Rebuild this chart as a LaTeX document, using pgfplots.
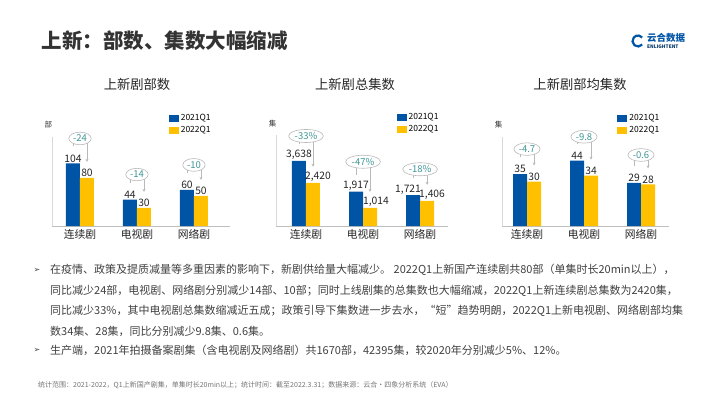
\documentclass[border=0pt]{standalone}
\usepackage{pgfplots}
\pgfplotsset{compat=1.18}
\usetikzlibrary{arrows.meta,shapes.geometric}
\usepackage{fontspec}
\setmainfont{Noto Sans CJK SC}
\newfontfamily\dejavu{DejaVu Sans}
\definecolor{cblue}{RGB}{0,84,166}
\definecolor{cyell}{RGB}{255,192,0}
\definecolor{cteal}{RGB}{64,150,150}
\definecolor{cgrayl}{RGB}{185,185,185}
\definecolor{ctext}{RGB}{64,64,64}
\newcommand\fs[1]{\fontsize{#1}{#1}\selectfont}
\tikzset{
  annline/.style={draw=cgrayl, line width=0.6pt},
  annell/.style={ellipse, draw=cgrayl, fill=white, line width=0.6pt, inner sep=1pt, text=cteal, font=\fs{9.5}},
}
\pgfplotsset{
  /pgfplots/ybar legend/.style={/pgfplots/legend image code/.code={\fill[##1] (0pt,-3.5pt) rectangle (10pt,3.5pt);}},
  mybars/.style={
    scale only axis, ybar=0pt, bar width=14pt,
    axis x line*=bottom, axis y line*=left,
    x axis line style={draw=black!25,-}, y axis line style={draw=black!15,-},
    ymin=0, ytick=\empty, xtick={0,1,2}, xticklabels={连续剧,电视剧,网络剧},
    major tick length=0pt,
    xticklabel style={font=\fs{10.8}, text=black!85},
    nodes near coords, every node near coord/.append style={font=\fs{10.3}, text=black!85, inner sep=1pt},
    /pgf/number format/1000 sep={,}, /pgf/number format/assume math mode=true,
    legend style={draw=none, fill=none, font=\fs{8.5}, anchor=north west, inner sep=0pt, row sep=0.5pt},
    legend cell align=left,
    clip=false,
  },
}
\newcommand\ann[7]{%
 \draw[annline] ([yshift=17pt]axis cs:#1,#4) |- ([yshift=#6]axis cs:#2,#4);
 \draw[annline,-{Stealth[length=3pt,width=3pt]}] ([yshift=#6]axis cs:#2,#4) -| ([yshift=16pt]axis cs:#3,#5);
 \node[annell] at ([yshift=#6]axis cs:#2,#4) {#7};
}
\begin{document}
\begin{tikzpicture}[x=1pt,y=-1pt]
\path[use as bounding box] (0,0) rectangle (710,399);
% title
\node[anchor=west, font=\fs{20.5}\bfseries, text=black!80] at (38,41) {上新：部数、集数大幅缩减};
% logo
\draw[cblue, line width=2.2pt] (638,41) ++(40:5.5) arc[start angle=40, end angle=320, radius=5.5];
\node[anchor=west, font=\fs{9.5}\bfseries, text=cblue, inner sep=0pt] at (647,38) {云合数据};
\node[anchor=west, font=\fs{4.8}\bfseries, text=cblue!60!black, inner sep=0pt] at (647,47) {ENLIGHTENT};
% chart titles
\node[font=\fs{13.3}, text=black!85] at (137,84) {上新剧部数};
\node[font=\fs{13.3}, text=black!85] at (355,84) {上新剧总集数};
\node[font=\fs{13.3}, text=black!85] at (580,84) {上新剧部均集数};

\begin{axis}[mybars, at={(52pt,-226pt)}, anchor=south west, width=178pt, height=89pt,
  xmin=-0.491, xmax=2.632, ymax=148, legend style={at={(axis description cs:0.655,1.28)}}]
\addplot[fill=cblue, draw=none] coordinates {(0,104) (1,44) (2,60)};
\addplot[fill=cyell, draw=none] coordinates {(0,80) (1,30) (2,50)};
\legend{2021Q1,2022Q1}
\node[font=\fs{7.5}, text=black!80] at (axis description cs:-0.02,1.14) {部};
\ann{-0.123}{0}{0.123}{104}{80}{25pt}{-24}
\ann{0.877}{1}{1.123}{44}{30}{25pt}{-14}
\ann{1.877}{2}{2.123}{60}{50}{25pt}{-10}
\end{axis}

\begin{axis}[mybars, at={(276pt,-226pt)}, anchor=south west, width=172pt, height=91pt,
  xmin=-0.526, xmax=2.49, ymax=5092, legend style={at={(axis description cs:0.7,1.265)}}]
\addplot[fill=cblue, draw=none, visualization depends on={\thisrow{s} \as \sh},
  every node near coord/.append style={xshift=\sh pt}] table[row sep=\\] {
x y s\\ 0 3638 0\\ 1 1917 0\\ 2 1721 -5\\
};
\addplot[fill=cyell, draw=none, visualization depends on={\thisrow{s} \as \sh},
  every node near coord/.append style={xshift=\sh pt}] table[row sep=\\] {
x y s\\ 0 2420 5\\ 1 1014 6\\ 2 1406 5\\
};
\legend{2021Q1,2022Q1}
\node[font=\fs{7.5}, text=black!80] at (axis description cs:-0.02,1.12) {集};
\ann{-0.123}{0}{0.123}{3638}{2420}{25pt}{-33\%}
\ann{0.877}{1}{1.123}{1917}{1014}{30pt}{-47\%}
\ann{1.877}{2}{2.123}{1721}{1406}{26pt}{-18\%}
\end{axis}

\begin{axis}[mybars, at={(502pt,-226pt)}, anchor=south west, width=167pt, height=89pt,
  xmin=-0.439, xmax=2.491, ymax=60, legend style={at={(axis description cs:0.69,1.28)}}]
\addplot[fill=cblue, draw=none] coordinates {(0,35) (1,44) (2,29)};
\addplot[fill=cyell, draw=none] coordinates {(0,30) (1,34) (2,28)};
\legend{2021Q1,2022Q1}
\node[font=\fs{7.5}, text=black!80] at (axis description cs:-0.02,1.14) {集};
\ann{-0.123}{0}{0.123}{35}{30}{25pt}{-4.7}
\ann{0.877}{1}{1.123}{44}{34}{24pt}{-9.8}
\ann{1.877}{2}{2.123}{29}{28}{28pt}{-0.6}
\end{axis}

% body text
\node[font=\dejavu\fs{8}, text=ctext] at (37,270) {➢};
\node[anchor=west, font=\fs{11}, text=ctext, inner sep=0pt] at (50,270) {在疫情、政策及提质减量等多重因素的影响下，新剧供给量大幅减少。 2022Q1上新国产连续剧共80部（单集时长20min以上），};
\node[anchor=west, font=\fs{11}, text=ctext, inner sep=0pt] at (50,291) {同比减少24部，电视剧、网络剧分别减少14部、10部；同时上线剧集的总集数也大幅缩减，2022Q1上新连续剧总集数为2420集，};
\node[anchor=west, font=\fs{11}, text=ctext, inner sep=0pt] at (50,311) {同比减少33\%，其中电视剧总集数缩减近五成；政策引导下集数进一步去水，“短”趋势明朗，2022Q1上新电视剧、网络剧部均集};
\node[anchor=west, font=\fs{11}, text=ctext, inner sep=0pt] at (50,331) {数34集、28集，同比分别减少9.8集、0.6集。};
\node[font=\dejavu\fs{8}, text=ctext] at (37,350) {➢};
\node[anchor=west, font=\fs{11}, text=ctext, inner sep=0pt] at (50,350) {生产端，2021年拍摄备案剧集（含电视剧及网络剧）共1670部，42395集，较2020年分别减少5\%、12\%。};
% footer
\node[anchor=west, font=\fs{7}, text=black!55, inner sep=0pt] at (38,385) {统计范围：2021-2022，Q1上新国产剧集，单集时长20min以上；统计时间：截至2022.3.31；数据来源：云合·四象分析系统（EVA）};
\end{tikzpicture}
\end{document}
